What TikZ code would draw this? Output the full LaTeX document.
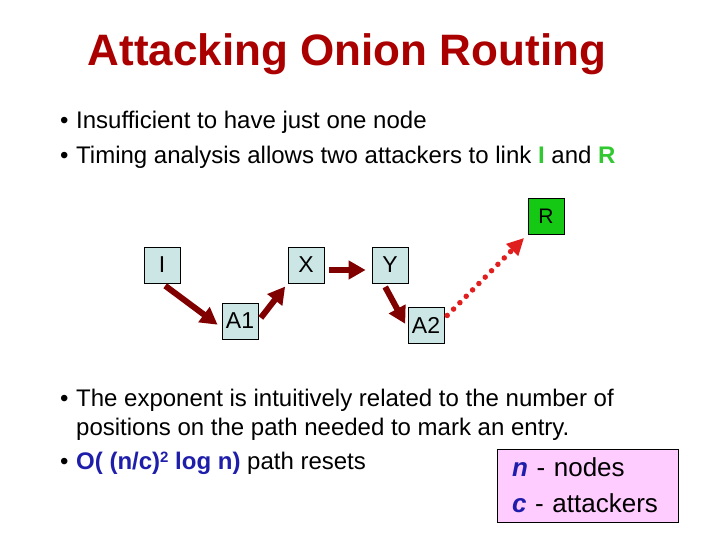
\documentclass[tikz,border=0pt]{standalone}
\usepackage{fontspec}
\setmainfont{Liberation Sans}
\usetikzlibrary{arrows.meta}
\definecolor{titlered}{RGB}{170,0,0}
\definecolor{arrowred}{RGB}{128,0,0}
\definecolor{dotred}{RGB}{225,30,30}
\definecolor{hopblue}{RGB}{204,230,230}
\definecolor{rgreen}{RGB}{20,200,20}
\definecolor{textgreen}{RGB}{50,200,50}
\definecolor{oblue}{RGB}{30,30,170}
\definecolor{notepink}{RGB}{255,204,255}
\begin{document}
\begin{tikzpicture}[x=1pt,y=-1pt,
    hop/.style={draw=black, line width=0.8pt, fill=hopblue, minimum size=36pt, inner sep=0pt, text depth=0pt, font=\fontsize{23}{23}\selectfont},
    bullet/.style={anchor=base west, inner sep=0pt, font=\fontsize{24}{28}\selectfont},
    link/.style={arrowred, line width=6pt, -{Triangle[length=17pt,width=18pt]}},
    timing/.style={dotred, line width=5.5pt, line cap=round, dash pattern=on 0pt off 9pt, -{Triangle[length=17pt,width=16pt]}},
    note/.style={draw=black, line width=0.8pt, fill=notepink, minimum width=181pt, minimum height=73pt, text width=151pt, inner xsep=15pt, align=left, font=\fontsize{26}{36}\selectfont}]
    \fill[white] (0,0) rectangle (720,540);
    \useasboundingbox (0,0) rectangle (720,540);

    % title and bullets
    \node[anchor=base, text=titlered, font=\fontsize{44}{50}\selectfont\bfseries] (title) at (347,66) {Attacking Onion Routing};
    \node[bullet] (b1) at (60,129) {\makebox[16pt][l]{•}Insufficient to have just one node};
    \node[bullet] (b2) at (60,164) {\makebox[16pt][l]{•}Timing analysis allows two attackers to link \textcolor{textgreen}{\textbf{I}} and \textcolor{textgreen}{\textbf{R}}};

    % path through the onion routers
    \node[hop] (I) at (162,265) {I};
    \node[hop] (A1) at (240,321) {A1};
    \node[hop] (X) at (306,265) {X};
    \node[hop] (Y) at (390,265) {Y};
    \node[hop] (A2) at (426,325) {A2};
    \node[hop, fill=rgreen, font=\fontsize{21}{21}\selectfont] (R) at (546,216) {R};

    \draw[link, shorten <=4pt, shorten >=5pt] (I.south) -- (A1.200);
    \draw[link, shorten <=4pt, shorten >=4pt] (A1.east) -- (X.225);
    \draw[link, shorten <=5pt, shorten >=6pt] ([yshift=-5pt]X.east) -- ([yshift=-5pt]Y.west);
    \draw[link, shorten <=4pt, shorten >=5pt] (Y.250) -- (A2.190);
    \draw[timing, shorten <=4pt, shorten >=5pt] (A2.20) -- (R.225);

    % lower bullets
    \node[bullet] (b3) at (60,406) {\makebox[16pt][l]{•}The exponent is intuitively related to the number of};
    \node[bullet] (b4) at (76,435) {positions on the path needed to mark an entry.};
    \node[bullet] (b5) at (60,469) {\makebox[16pt][l]{•}\textcolor{oblue}{\textbf{O( (n/c)\raisebox{0.5ex}{\fontsize{15}{15}\selectfont 2} log n)}} path resets};

    \node[note] (key) at (587.5,485.5) {\textcolor{oblue}{\textbf{\textit{n}}} - nodes\\\textcolor{oblue}{\textbf{\textit{c}}} - attackers};
\end{tikzpicture}
\end{document}
